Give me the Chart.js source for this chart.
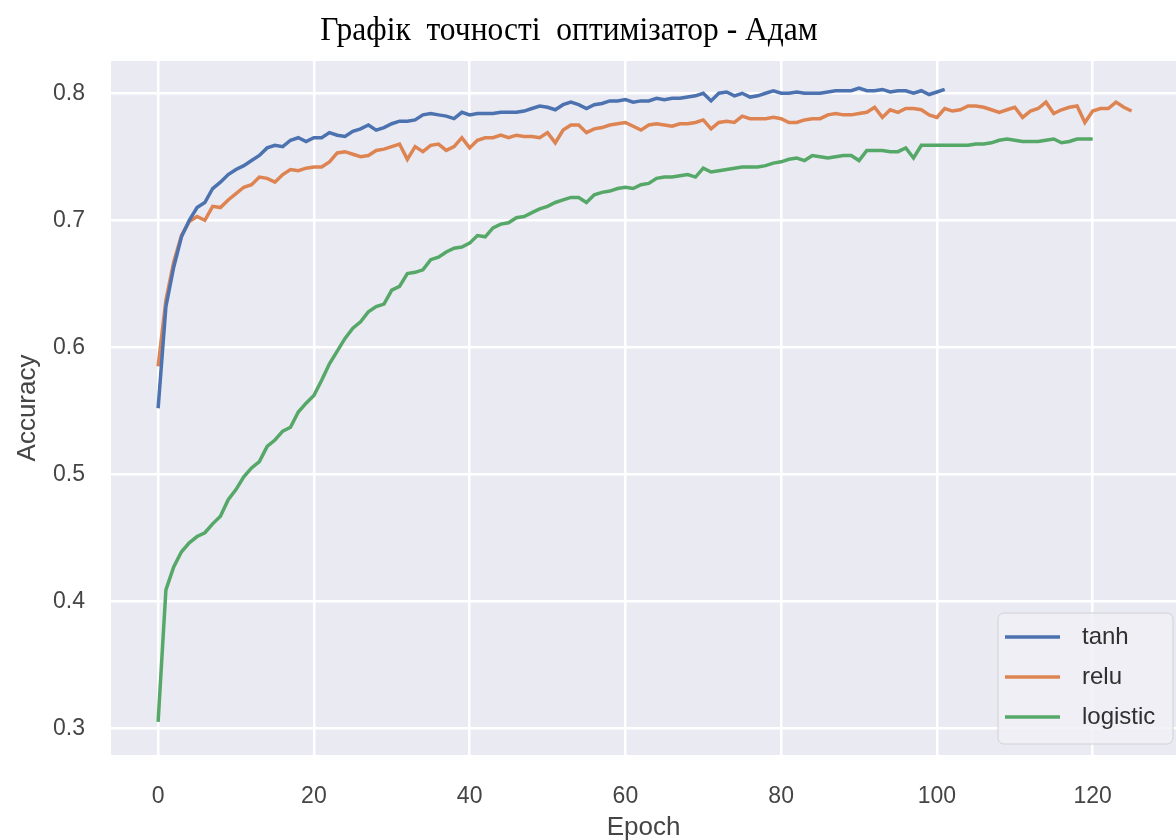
<!DOCTYPE html>
<html lang="uk">
<head>
  <meta charset="UTF-8" />
  <title>Графік точності оптимізатор - Адам</title>
  <script src="https://cdn.jsdelivr.net/npm/chart.js"></script>
  <style>
    html, body { margin: 0; padding: 0; background: #ffffff; }
    #grafik { display: block; }
  </style>
</head>
<body>
  <canvas id="grafik" width="1176" height="840"></canvas>

  <script>
    // точність по епохах
    const tanhAcc = [
      0.552, 0.632, 0.663, 0.687, 0.700, 0.710, 0.714, 0.725, 0.730, 0.736,
      0.740, 0.743, 0.747, 0.751, 0.757, 0.759, 0.758, 0.763, 0.765, 0.762,
      0.765, 0.765, 0.769, 0.767, 0.766, 0.770, 0.772, 0.775, 0.771, 0.773,
      0.776, 0.778, 0.778, 0.779, 0.783, 0.784, 0.783, 0.782, 0.780, 0.785,
      0.783, 0.784, 0.784, 0.784, 0.785, 0.785, 0.785, 0.786, 0.788, 0.790,
      0.789, 0.787, 0.791, 0.793, 0.791, 0.788, 0.791, 0.792, 0.794, 0.794,
      0.795, 0.793, 0.794, 0.794, 0.796, 0.795, 0.796, 0.796, 0.797, 0.798,
      0.800, 0.794, 0.800, 0.801, 0.798, 0.800, 0.797, 0.798, 0.800, 0.802,
      0.800, 0.800, 0.801, 0.800, 0.800, 0.800, 0.801, 0.802, 0.802, 0.802,
      0.804, 0.802, 0.802, 0.803, 0.801, 0.802, 0.802, 0.800, 0.802, 0.799,
      0.801, 0.803
    ];
    const reluAcc = [
      0.585, 0.637, 0.667, 0.688, 0.699, 0.703, 0.700, 0.711, 0.710, 0.716,
      0.721, 0.726, 0.728, 0.734, 0.733, 0.730, 0.736, 0.740, 0.739, 0.741,
      0.742, 0.742, 0.746, 0.753, 0.754, 0.752, 0.750, 0.751, 0.755, 0.756,
      0.758, 0.760, 0.748, 0.758, 0.754, 0.759, 0.760, 0.755, 0.758, 0.765,
      0.757, 0.763, 0.765, 0.765, 0.767, 0.765, 0.767, 0.766, 0.766, 0.765,
      0.769, 0.761, 0.771, 0.775, 0.775, 0.769, 0.772, 0.773, 0.775, 0.776,
      0.777, 0.774, 0.771, 0.775, 0.776, 0.775, 0.774, 0.776, 0.776, 0.777,
      0.779, 0.772, 0.777, 0.778, 0.777, 0.782, 0.780, 0.780, 0.780, 0.781,
      0.780, 0.777, 0.777, 0.779, 0.780, 0.780, 0.783, 0.784, 0.783, 0.783,
      0.784, 0.785, 0.789, 0.781, 0.787, 0.785, 0.788, 0.788, 0.787, 0.783,
      0.781, 0.788, 0.786, 0.787, 0.790, 0.790, 0.789, 0.787, 0.785, 0.787,
      0.789, 0.781, 0.786, 0.788, 0.793, 0.784, 0.787, 0.789, 0.790, 0.777,
      0.786, 0.788, 0.788, 0.793, 0.789, 0.786
    ];
    const logisticAcc = [
      0.305, 0.409, 0.427, 0.439, 0.446, 0.451, 0.454, 0.461, 0.467, 0.480,
      0.488, 0.498, 0.505, 0.510, 0.522, 0.527, 0.534, 0.537, 0.549, 0.556,
      0.562, 0.574, 0.587, 0.597, 0.607, 0.615, 0.620, 0.628, 0.632, 0.634,
      0.645, 0.648, 0.658, 0.659, 0.661, 0.669, 0.671, 0.675, 0.678, 0.679,
      0.682, 0.688, 0.687, 0.694, 0.697, 0.698, 0.702, 0.703, 0.706, 0.709,
      0.711, 0.714, 0.716, 0.718, 0.718, 0.714, 0.720, 0.722, 0.723, 0.725,
      0.726, 0.725, 0.728, 0.729, 0.733, 0.734, 0.734, 0.735, 0.736, 0.734,
      0.741, 0.738, 0.739, 0.740, 0.741, 0.742, 0.742, 0.742, 0.743, 0.745,
      0.746, 0.748, 0.749, 0.747, 0.751, 0.750, 0.749, 0.750, 0.751, 0.751,
      0.747, 0.755, 0.755, 0.755, 0.754, 0.754, 0.757, 0.749, 0.759, 0.759,
      0.759, 0.759, 0.759, 0.759, 0.759, 0.760, 0.760, 0.761, 0.763, 0.764,
      0.763, 0.762, 0.762, 0.762, 0.763, 0.764, 0.761, 0.762, 0.764, 0.764,
      0.764
    ];

    const seriesNames = ["tanh", "relu", "logistic"];
    const seriesColors = ["#4c72b0", "#dd8452", "#55a868"];
    const xTicks = [0, 20, 40, 60, 80, 100, 120];
    const yTicks = [0.3, 0.4, 0.5, 0.6, 0.7, 0.8];
    const chartTitle = "Графік  точності  оптимізатор - Адам";

    const toPoints = arr => arr.map((v, i) => ({ x: i, y: v }));

    // фон області графіка (seaborn darkgrid) + заголовок
    const tloGrafika = {
      id: "tloGrafika",
      beforeDraw(chart) {
        const { ctx, chartArea: a } = chart;
        ctx.save();
        ctx.fillStyle = "#eaeaf2";
        ctx.fillRect(a.left, a.top, a.right - a.left, a.bottom - a.top);

        // заголовок трохи стиснутий по горизонталі, як у оригіналі
        ctx.translate(569, 40);
        ctx.scale(0.955, 1);
        ctx.font = "33px 'Liberation Serif', 'Times New Roman', serif";
        ctx.fillStyle = "#000000";
        ctx.textAlign = "center";
        ctx.textBaseline = "alphabetic";
        ctx.fillText(chartTitle, 0, 0);
        ctx.restore();
      }
    };

    // легенда всередині графіка, правий нижній кут
    const legendaVseredyni = {
      id: "legendaVseredyni",
      afterDraw(chart) {
        const { ctx, chartArea: a } = chart;
        const w = 175, h = 131;
        const x = a.right - w - 3;
        const y = a.bottom - h - 11;
        ctx.save();
        ctx.beginPath();
        ctx.roundRect(x, y, w, h, 6);
        ctx.fillStyle = "rgba(240,240,246,0.85)";
        ctx.fill();
        ctx.strokeStyle = "#d0d0d4";
        ctx.lineWidth = 1;
        ctx.stroke();
        ctx.font = "24px 'Liberation Sans', Arial, sans-serif";
        ctx.textBaseline = "middle";
        chart.data.datasets.forEach((ds, i) => {
          const ly = y + 24 + i * 40;
          ctx.strokeStyle = ds.borderColor;
          ctx.lineWidth = 3.5;
          ctx.beginPath();
          ctx.moveTo(x + 7, ly);
          ctx.lineTo(x + 62, ly);
          ctx.stroke();
          ctx.fillStyle = "#303030";
          ctx.fillText(ds.label, x + 84, ly);
        });
        ctx.restore();
      }
    };

    new Chart(document.getElementById("grafik"), {
      type: "line",
      data: {
        datasets: [tanhAcc, reluAcc, logisticAcc].map((arr, i) => ({
          label: seriesNames[i],
          data: toPoints(arr),
          borderColor: seriesColors[i],
          backgroundColor: seriesColors[i],
          borderWidth: 3.5,
          pointRadius: 0,
          tension: 0,
          fill: false
        }))
      },
      options: {
        responsive: false,
        animation: false,
        layout: { padding: { top: 61, right: 0, bottom: 0, left: 0 } },
        plugins: {
          legend: { display: false },
          tooltip: { enabled: false },
          title: { display: false }
        },
        scales: {
          x: {
            type: "linear",
            min: -6.05,
            max: 130.7,
            afterBuildTicks: s => { s.ticks = xTicks.map(v => ({ value: v })); },
            afterFit: s => { s.height = 85; },
            border: { display: false },
            grid: { color: "#ffffff", lineWidth: 2.5, drawTicks: false },
            ticks: {
              color: "#454545",
              padding: 28,
              font: { family: "'Liberation Sans', Arial, sans-serif", size: 23 }
            },
            title: {
              display: true,
              text: "Epoch",
              color: "#454545",
              padding: { top: 0, bottom: 0 },
              font: { family: "'Liberation Sans', Arial, sans-serif", size: 26, lineHeight: 0.9 }
            }
          },
          y: {
            min: 0.279,
            max: 0.8254,
            afterBuildTicks: s => { s.ticks = yTicks.map(v => ({ value: v })); },
            afterFit: s => { s.width = 111; },
            border: { display: false },
            grid: { color: "#ffffff", lineWidth: 2.5, drawTicks: false },
            ticks: {
              color: "#454545",
              padding: 26,
              callback: v => v.toFixed(1),
              font: { family: "'Liberation Sans', Arial, sans-serif", size: 23 }
            },
            title: {
              display: true,
              text: "Accuracy",
              color: "#454545",
              padding: { top: 12, bottom: 0 },
              font: { family: "'Liberation Sans', Arial, sans-serif", size: 26 }
            }
          }
        }
      },
      plugins: [tloGrafika, legendaVseredyni]
    });
  </script>
</body>
</html>
